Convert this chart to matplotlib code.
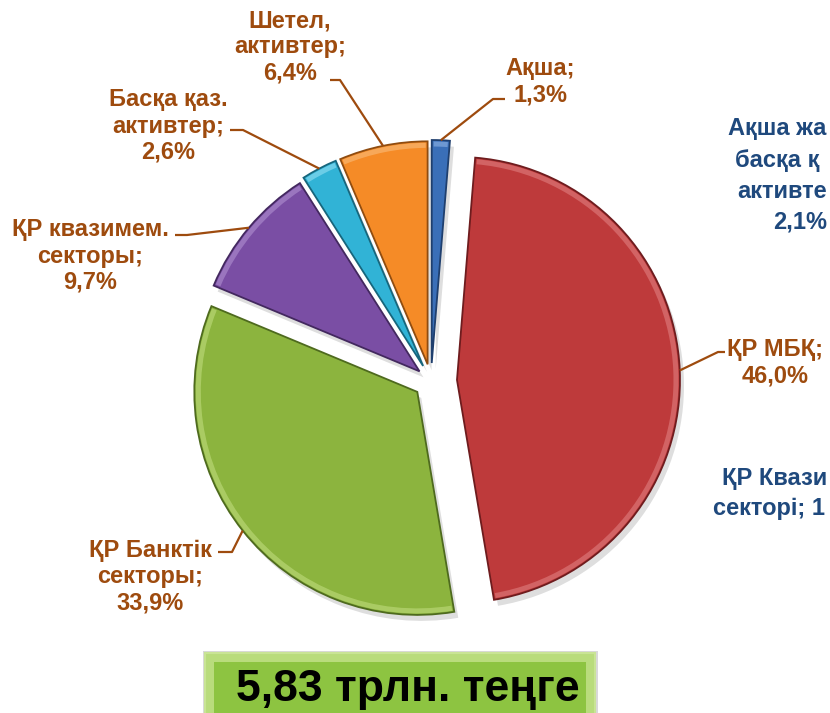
#coding:utf8
import matplotlib
matplotlib.use('Agg')
import matplotlib.pyplot as plt
from matplotlib.patches import Rectangle, Wedge
import numpy as np

# данные
labels = ['Ақша;\n1,3%', 'ҚР МБҚ;\n46,0%', 'ҚР Банктік\nсекторы;\n33,9%',
          'ҚР квазимем.\nсекторы;\n9,7%', 'Басқа қаз.\nактивтер;\n2,6%',
          'Шетел,\nактивтер;\n6,4%']
values = [1.3, 46.0, 33.9, 9.7, 2.6, 6.4]
colors = ['#3A6FB8', '#BE3A3B', '#8CB43E', '#7A4EA4', '#31B3D6', '#F58B27']
lights = ['#7FA6DC', '#D97172', '#B5D470', '#A583C8', '#7FD6EE', '#F9B36B']
edges = ['#1F3F6E', '#6E1C1E', '#4E6A1E', '#43285F', '#17667C', '#8F4C10']
explode = [18, 26, 17.5, 15, 17, 17]
total_text = '5,83 трлн. теңге'
# обрезанные справа подписи (видимая часть)
side_lines = ['Ақша жа', 'басқа қ', 'активте', '2,1%', 'ҚР Квази', 'секторі; 1']

W, H = 830, 713
BROWN = '#9E4B0E'
NAVY = '#1F497D'

plt.rcParams['font.family'] = ['Liberation Sans', 'DejaVu Sans']

fig = plt.figure(figsize=(W / 100, H / 100), dpi=100)
ax = fig.add_axes([0, 0, 1, 1])

cx, cy, R = 431, H - 381, 223

# тень
ax.pie(values, explode=explode, startangle=90, counterclock=False,
       center=(cx + 4, cy - 6), radius=R,
       wedgeprops=dict(facecolor='#000000', alpha=0.13, linewidth=0))

wedges, _ = ax.pie(values, explode=explode, colors=colors, startangle=90,
                   counterclock=False, center=(cx, cy), radius=R,
                   wedgeprops=dict(linewidth=1.3))
for w, e, lc in zip(wedges, edges, lights):
    w.set_edgecolor(e)
    # светлая кромка по дуге
    span = w.theta2 - w.theta1
    pad = min(0.5, span * 0.15)
    ax.add_patch(Wedge(w.center, w.r - 1.5, w.theta1 + pad, w.theta2 - pad,
                       width=5, facecolor=lc, alpha=0.75, linewidth=0))

# положения подписей (x, y текста, излом линии, конец линии)
lab_pos = [(540, 631, (493, 614), (505, 614)),
           (775, 350, (718, 361), (725, 361)),
           (150, 136, (232, 161), (218, 161)),
           (90, 457, (187, 478), (175, 478)),
           (168, 587, (243, 583), (230, 583)),
           (290, 666, (340, 633), (330, 633))]

for w, lab, (tx, ty, knee, end) in zip(wedges, labels, lab_pos):
    ang = np.deg2rad((w.theta1 + w.theta2) / 2)
    px = w.center[0] + w.r * np.cos(ang)
    py = w.center[1] + w.r * np.sin(ang)
    ax.plot([px, knee[0], end[0]], [py, knee[1], end[1]], color=BROWN, lw=1.6,
            solid_capstyle='butt')
    ax.text(tx, ty, lab, ha='center', va='center', color=BROWN, fontsize=17,
            fontweight='bold', linespacing=1.18)

# подписи справа
side_xy = [(728, H - 128), (735, H - 160), (737, H - 191), (773, H - 222),
           (722, H - 478), (713, H - 508)]
for s, (sx, sy) in zip(side_lines, side_xy):
    ax.text(sx, sy, s, ha='left', va='center', color=NAVY, fontsize=17,
            fontweight='bold')

# итоговая плашка
ax.add_patch(Rectangle((203, -5), 395, 67, facecolor='#000000', alpha=0.15,
                       linewidth=0))
ax.add_patch(Rectangle((205, -5), 390, 65, facecolor='#B9DC7C',
                       edgecolor='#C9E495', linewidth=1.5))
ax.add_patch(Rectangle((214, -5), 372, 56, facecolor='#8DC441', linewidth=0))
ax.text(408, 23, total_text, ha='center', va='center', fontsize=32,
        fontweight='bold', color='black')

ax.set_xlim(0, W)
ax.set_ylim(0, H)
ax.set_aspect('auto')
ax.axis('off')

plt.savefig('out.png', dpi=100)
